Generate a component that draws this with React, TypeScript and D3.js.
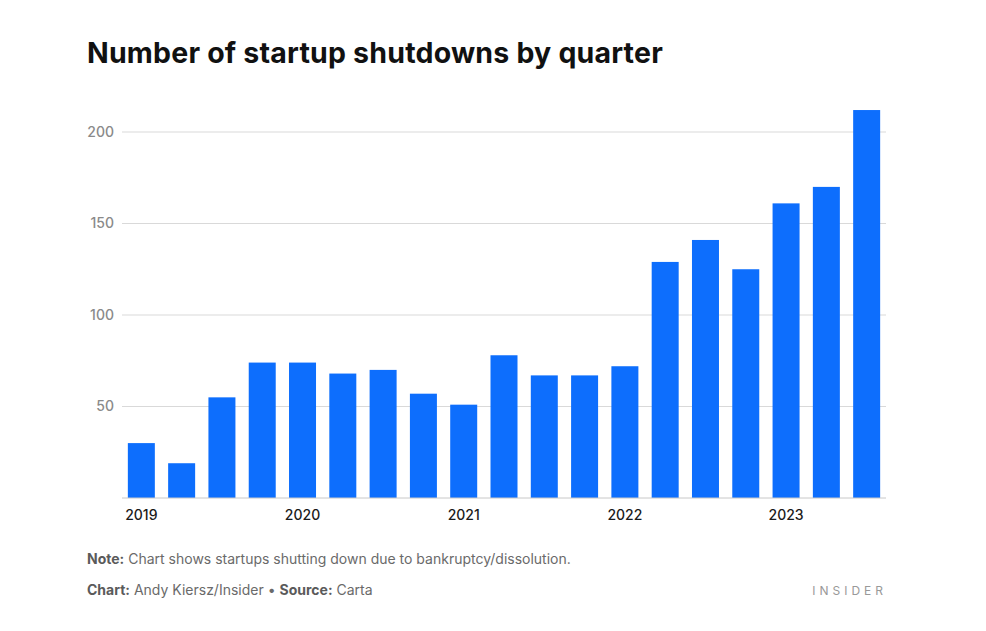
import React from "react";
import * as d3 from "d3";

const quarters = [
  "2019 Q1", "2019 Q2", "2019 Q3", "2019 Q4",
  "2020 Q1", "2020 Q2", "2020 Q3", "2020 Q4",
  "2021 Q1", "2021 Q2", "2021 Q3", "2021 Q4",
  "2022 Q1", "2022 Q2", "2022 Q3", "2022 Q4",
  "2023 Q1", "2023 Q2", "2023 Q3",
];
const shutdowns = [30, 19, 55, 74, 74, 68, 70, 57, 51, 78, 67, 67, 72, 129, 141, 125, 161, 170, 212];
const yTicks = [50, 100, 150, 200];
const yearLabels = ["2019", "2020", "2021", "2022", "2023"];

const W = 986;
const H = 631;
const FONT = "Inter, 'Noto Sans', sans-serif";

export default function App() {
  const x = d3.scaleBand<string>().domain(quarters).range([122, 886]).paddingInner(0.33).paddingOuter(0.145);
  const y = d3.scaleLinear().domain([0, 200]).range([498, 132]);

  return (
    <svg width={W} height={H} style={{ position: "absolute", left: 0, top: 0, background: "#fff" }} fontFamily={FONT}>
      <text x={87} y={63} fontSize={28.5} fontWeight={700} fill="#111" letterSpacing={0.2}>
        Number of startup shutdowns by quarter
      </text>
      {yTicks.map((t) => (
        <g key={t}>
          <line x1={122} x2={886} y1={y(t)} y2={y(t)} stroke="#d9d9d9" strokeWidth={1} />
          <text x={114} y={y(t)} dy="0.35em" textAnchor="end" fontSize={14} fontWeight={500} fill="#8a8a8a">
            {t}
          </text>
        </g>
      ))}
      {quarters.map((q, i) => (
        <rect key={q} x={x(q)} y={y(shutdowns[i])} width={x.bandwidth()} height={y(0) - y(shutdowns[i])} fill="#0d6efd" />
      ))}
      <line x1={122} x2={886} y1={y(0)} y2={y(0)} stroke="#c8c8c8" strokeWidth={1} />
      {yearLabels.map((yr) => {
        const q = `${yr} Q1`;
        return (
          <text key={yr} x={(x(q) as number) + x.bandwidth() / 2} y={520} textAnchor="middle" fontSize={14} fontWeight={500} fill="#1a1a1a">
            {yr}
          </text>
        );
      })}
      <text x={87} y={564} fontSize={14} fill="#6a6a6a">
        <tspan fontWeight={700} fill="#5a5a5a">Note:</tspan> Chart shows startups shutting down due to bankruptcy/dissolution.
      </text>
      <text x={87} y={595} fontSize={14} fill="#6a6a6a">
        <tspan fontWeight={700} fill="#5a5a5a">Chart:</tspan> Andy Kiersz/Insider •{" "}
        <tspan fontWeight={700} fill="#5a5a5a">Source:</tspan> Carta
      </text>
      <text x={887} y={595} textAnchor="end" fontSize={12} letterSpacing={4} fill="#999">
        INSIDER
      </text>
    </svg>
  );
}
